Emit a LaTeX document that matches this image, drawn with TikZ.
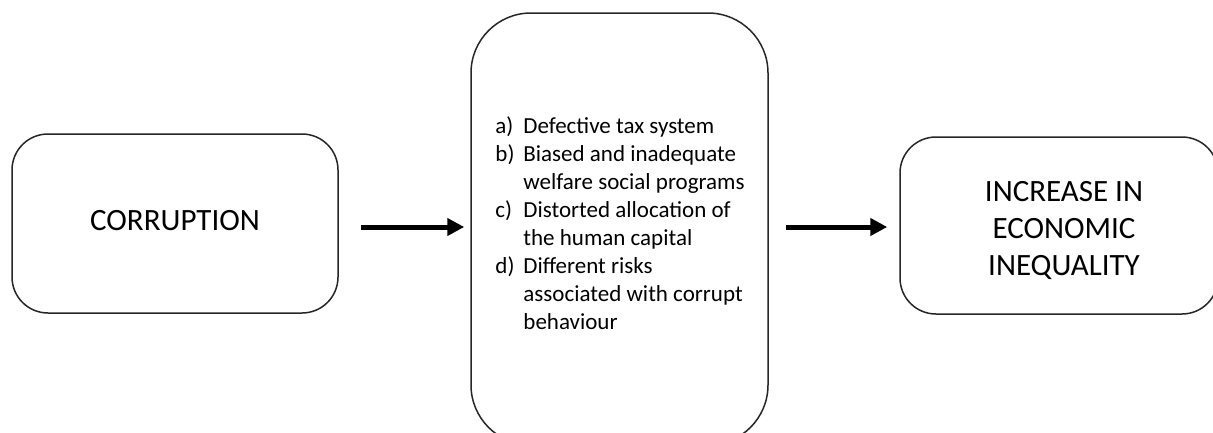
\documentclass[tikz,border=0pt]{standalone}
\usepackage{fontspec}
\setmainfont{Carlito}
\usetikzlibrary{arrows.meta}
\begin{document}
\begin{tikzpicture}[x=1pt,y=-1pt,
  box/.style={draw=black!85, line width=1.5pt, rounded corners=#1, inner sep=0pt},
  big/.style={font=\fontsize{31}{37}\selectfont},
  list/.style={font=\fontsize{23}{28.1}\selectfont},
  flow/.style={line width=5pt, -{Triangle[length=17pt,width=17pt]}}]
\useasboundingbox (0,0) rectangle (1213,432);
% cause
\node[box=36pt, big, minimum width=326pt, minimum height=179pt] (cause) at (175,223.5)
  {\raisebox{7pt}{CORRUPTION}};
% channels
\node[box=60pt, minimum width=297pt, minimum height=432pt] (chan) at (619.5,229) {};
\node[list, anchor=center, inner sep=0pt] (items) at (620,226) {%
  \begin{tabular}{@{}p{28pt}@{}l@{}}
  a) & Defective tax system\\
  b) & Biased and inadequate\\
     & welfare social programs\\
  c) & Distorted allocation of\\
     & the human capital\\
  d) & Different risks\\
     & associated with corrupt\\
     & behaviour
  \end{tabular}};
% effect
\node[box=36pt, minimum width=318pt, minimum height=177pt] (effect) at (1059,225.5) {};
\node[big, align=center, inner sep=0pt] (efftext) at (1064,230)
  {INCREASE IN\\ECONOMIC\\INEQUALITY};
% connectors
\coordinate (ay) at (0,227);
\draw[flow, shorten <=22pt, shorten >=6pt] (cause.east |- ay) -- (chan.west |- ay);
\draw[flow, shorten <=17pt, shorten >=12pt] (chan.east |- ay) -- (effect.west |- ay);
\end{tikzpicture}
\end{document}
